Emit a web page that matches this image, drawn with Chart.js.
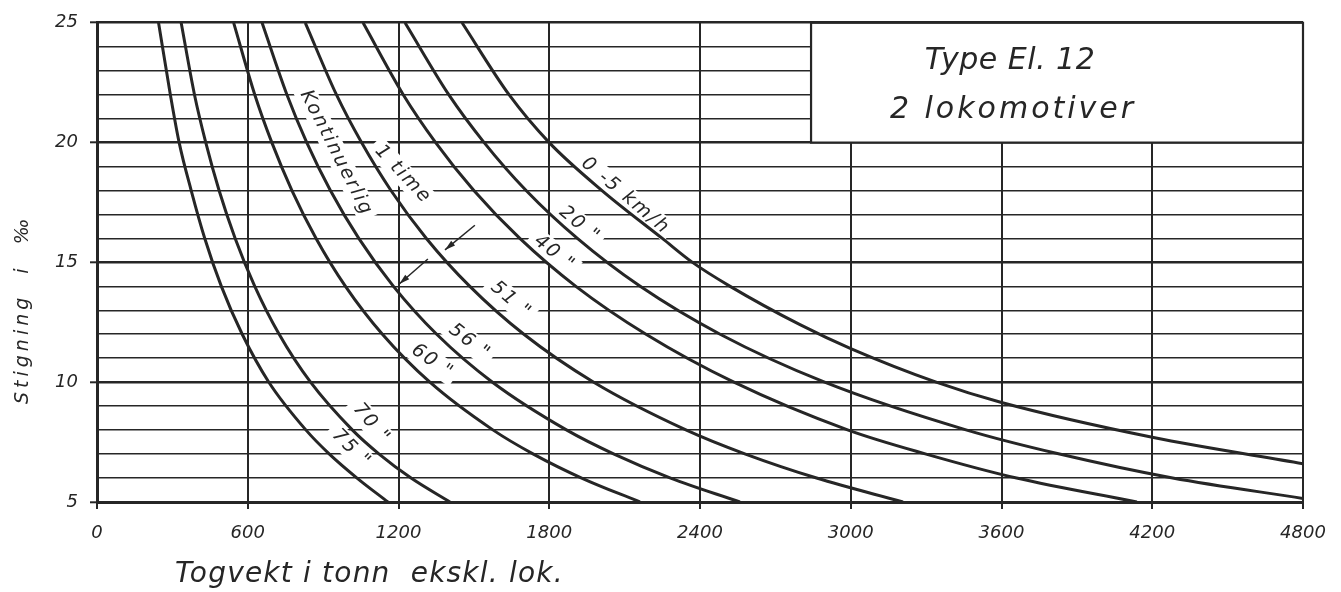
<!DOCTYPE html>
<html>
<head>
<meta charset="utf-8">
<script src="https://cdn.jsdelivr.net/npm/chart.js@4.4.1/dist/chart.umd.min.js"></script>
<style>
  html, body { margin: 0; padding: 0; background: #fff; }
  #wrap { width: 1341px; height: 592px; }
</style>
</head>
<body>
<div id="wrap"><canvas id="chart" width="1341" height="592"></canvas></div>
<script>
// Togvekt (t) for each speed curve, against stigning (‰)
const grad = [25, 22, 20, 18, 16, 14, 12, 10, 8, 7, 6, 5];
const w75 = [245, 292, 327, 375, 429, 495, 578, 684, 832, 925, 1035, 1158];
const w70 = [335, 388, 433, 486, 550, 628, 725, 850, 1017, 1123, 1250, 1405];
const w60 = [544, 628, 696, 776, 872, 989, 1136, 1325, 1577, 1737, 1929, 2161];
const w56 = [657, 756, 835, 929, 1042, 1180, 1352, 1574, 1870, 2058, 2283, 2559];
const w51 = [829, 953, 1053, 1170, 1311, 1484, 1699, 1977, 2346, 2581, 2864, 3208];
const w40 = [1059, 1219, 1348, 1500, 1683, 1906, 2185, 2535, 2990, 3300, 3660, 4139];
const grad20 = [25, 22, 20, 18, 16, 14, 12, 10, 8, 7, 6, 5.15];
const w20 = [1226, 1400, 1541, 1708, 1912, 2162, 2480, 2896, 3462, 3831, 4281, 4800];
const grad05 = [25, 22, 20, 18, 16, 15, 14, 12.4, 11.4, 10, 9.15, 7.7, 6.6];
const w05 = [1453, 1640, 1800, 2010, 2250, 2370, 2520, 2798, 3000, 3340, 3600, 4200, 4800];

const xTicks = [0, 600, 1200, 1800, 2400, 3000, 3600, 4200, 4800];
const yTicks = [5, 10, 15, 20, 25];

const curves = [
  ['75 km/h', w75, grad], ['70 km/h', w70, grad], ['60 km/h', w60, grad],
  ['56 km/h', w56, grad], ['51 km/h', w51, grad], ['40 km/h', w40, grad],
  ['20 km/h', w20, grad20], ['0-5 km/h', w05, grad05],
];

// curve labels: text, position (t, ‰), angle
const curveLabels = [
  ['Kontinuerlig', 950, 19.6, 63],
  ['1 time', 1215, 18.7, 47],
  ['0 -5 km/h', 2100, 17.8, 40],
  ['20 "', 1918, 16.6, 40],
  ['40 "', 1818, 15.4, 39],
  ['51 "', 1645, 13.45, 41],
  ['56 "', 1480, 11.7, 38],
  ['60 "', 1332, 10.88, 35],
  ['70 "', 1090, 8.3, 50],
  ['75 "', 1010, 7.25, 45],
];

// rating arrows: from -> tip (t, ‰)
const arrows = [
  [1504, 16.55, 1385, 15.52],
  [1317, 15.14, 1203, 14.1],
];

const boxFrom = 2842; // title box covers 2842..4800 t, 20..25 ‰
const ink = '#262626';
const font = '"DejaVu Sans", "Liberation Sans", sans-serif';

function labelAt(ctx, l, xs, ys, whiteOut) {
  const [text, x, y, ang] = l;
  ctx.save();
  ctx.translate(xs.getPixelForValue(x), ys.getPixelForValue(y));
  ctx.rotate(ang * Math.PI / 180);
  ctx.font = 'italic 19px ' + font;
  ctx.letterSpacing = '2px';
  const w = ctx.measureText(text).width;
  if (whiteOut) {
    ctx.fillStyle = '#fff';
    ctx.fillRect(-w / 2 - 5, -11, w + 10, 22);
  } else {
    ctx.fillStyle = ink;
    ctx.textAlign = 'center';
    ctx.textBaseline = 'middle';
    ctx.fillText(text, 1, 0);
  }
  ctx.restore();
}

const decor = {
  id: 'decor',
  beforeDatasetsDraw(chart) {
    const { ctx, chartArea: a, scales: { x, y } } = chart;
    curveLabels.forEach(l => labelAt(ctx, l, x, y, true));
    // title box
    const bx = x.getPixelForValue(boxFrom), by = y.getPixelForValue(20);
    ctx.save();
    ctx.fillStyle = '#fff';
    ctx.fillRect(bx, a.top, a.right - bx, by - a.top);
    ctx.strokeStyle = ink;
    ctx.lineWidth = 2.2;
    ctx.strokeRect(bx, a.top, a.right - bx, by - a.top);
    ctx.restore();
  },
  afterDatasetsDraw(chart) {
    const { ctx, scales: { x, y } } = chart;
    curveLabels.forEach(l => labelAt(ctx, l, x, y, false));
    ctx.save();
    ctx.strokeStyle = ink;
    ctx.fillStyle = ink;
    ctx.lineWidth = 1.5;
    arrows.forEach(([x0, y0, x1, y1]) => {
      const p0 = [x.getPixelForValue(x0), y.getPixelForValue(y0)];
      const p1 = [x.getPixelForValue(x1), y.getPixelForValue(y1)];
      const ang = Math.atan2(p1[1] - p0[1], p1[0] - p0[0]);
      ctx.beginPath();
      ctx.moveTo(p0[0], p0[1]);
      ctx.lineTo(p1[0], p1[1]);
      ctx.stroke();
      ctx.beginPath();
      ctx.moveTo(p1[0], p1[1]);
      ctx.lineTo(p1[0] - 11 * Math.cos(ang - 0.28), p1[1] - 11 * Math.sin(ang - 0.28));
      ctx.lineTo(p1[0] - 11 * Math.cos(ang + 0.28), p1[1] - 11 * Math.sin(ang + 0.28));
      ctx.closePath();
      ctx.fill();
    });
    ctx.restore();
  },
  afterDraw(chart) {
    const { ctx, chartArea: a, scales: { x } } = chart;
    const cx = (x.getPixelForValue(boxFrom) + a.right) / 2;
    ctx.save();
    ctx.fillStyle = ink;
    ctx.textAlign = 'center';
    ctx.textBaseline = 'alphabetic';
    ctx.font = 'italic 30px ' + font;
    ctx.letterSpacing = '0.5px';
    ctx.fillText('Type El. 12', cx - 47, 69);
    ctx.letterSpacing = '3px';
    ctx.fillText('2 lokomotiver', cx - 44, 118);
    // x-axis title
    ctx.textAlign = 'left';
    ctx.font = 'italic 28px ' + font;
    ctx.letterSpacing = '1.2px';
    ctx.fillText('Togvekt i tonn  ekskl. lok.', a.left + 78, 582);
    // y-axis title
    ctx.translate(28, 404);
    ctx.rotate(-Math.PI / 2);
    ctx.font = 'italic 19px ' + font;
    ctx.letterSpacing = '4px';
    ctx.fillText('Stigning  i  \u2030', 0, 0);
    ctx.restore();
  },
};

const tickFont = { family: font, size: 18, style: 'italic' };

new Chart(document.getElementById('chart'), {
  type: 'scatter',
  data: {
    datasets: curves.map(([label, w, s]) => ({
      label,
      data: w.map((v, i) => ({ x: v, y: s[i] })),
      showLine: true,
      borderColor: ink,
      borderWidth: 3,
      pointRadius: 0,
      cubicInterpolationMode: 'monotone',
    })),
  },
  options: {
    responsive: false,
    animation: false,
    events: [],
    layout: { padding: { top: 19, right: 38, left: 0, bottom: 0 } },
    plugins: { legend: { display: false }, tooltip: { enabled: false } },
    scales: {
      x: {
        type: 'linear', min: 0, max: 4800,
        afterBuildTicks: s => { s.ticks = xTicks.map(v => ({ value: v })); },
        ticks: {
          font: tickFont, color: ink, padding: 14, maxRotation: 0, autoSkip: false,
          callback: v => String(v),
        },
        grid: { color: ink, lineWidth: 2, tickLength: 7, tickColor: ink, tickWidth: 2 },
        border: { color: ink, width: 3 },
        afterFit: s => { s.height = 90; },
      },
      y: {
        type: 'linear', min: 5, max: 25,
        // a grid line at every 1 ‰, labels only at the 5 ‰ steps
        afterBuildTicks: s => {
          const t = [];
          for (let v = 5; v <= 25; v++) t.push({ value: v });
          s.ticks = t;
        },
        ticks: {
          font: tickFont, color: ink, padding: 12, autoSkip: false,
          callback: v => yTicks.includes(v) ? String(v) : '',
        },
        grid: {
          color: ink,
          lineWidth: c => yTicks.includes(c.tick && c.tick.value) ? 2.6 : 1.6,
          tickColor: c => yTicks.includes(c.tick && c.tick.value) ? ink : 'rgba(0,0,0,0)',
          tickLength: 7, tickWidth: 2,
        },
        border: { color: ink, width: 3 },
        afterFit: s => { s.width = 97; },
      },
    },
  },
  plugins: [decor],
});
</script>
</body>
</html>
